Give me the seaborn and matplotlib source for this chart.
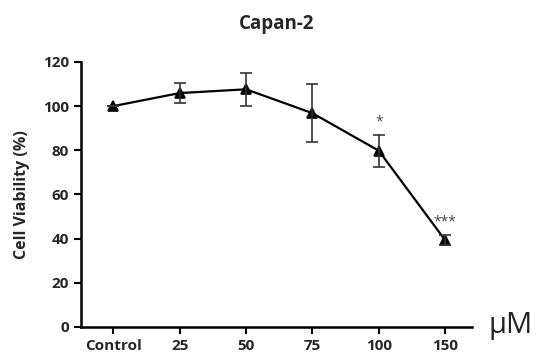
import numpy as np
import pandas as pd
import matplotlib
matplotlib.use("Agg")
import matplotlib.pyplot as plt
import seaborn as sns

# values
doses = ["Control", "25", "50", "75", "100", "150"]
viability = [100, 105.9, 107.6, 96.8, 79.8, 39.3]
sd = [0, 4.6, 7.6, 13.2, 7.3, 2.2]
stars = ["", "", "", "", "*", "***"]

sns.set_theme(style="ticks")
plt.rcParams['font.family'] = ['Open Sans', 'DejaVu Sans']

df = pd.DataFrame({"dose": doses, "viability": viability})

fig = plt.figure(figsize=(5.39, 3.58), dpi=100)
ax = fig.add_axes([0.15, 0.087, 0.725, 0.74])

sns.pointplot(data=df, x="dose", y="viability", order=doses, color="black",
              markers="^", errorbar=None, linewidth=1.6, markersize=7, ax=ax)
ax.errorbar(np.arange(len(doses)), viability, yerr=sd, fmt="none",
            ecolor="#333333", elinewidth=1.2, capsize=4, capthick=1.2)

for i, s in enumerate(stars):
    if s:
        ax.text(i, viability[i] + sd[i] + 2.5, s, ha="center", va="bottom",
                fontsize=10, color="#444444")

ax.set_xlim(-0.49, 5.40)
ax.set_ylim(0, 120)
ax.set_yticks(range(0, 121, 20))
ax.set_xlabel("")
ax.set_ylabel("Cell Viability (%)", fontsize=11.5, fontweight="bold", labelpad=9)
ax.set_title("Capan-2", fontsize=13.5, fontweight="bold", pad=24)
for lab in ax.get_xticklabels() + ax.get_yticklabels():
    lab.set_fontweight("bold")
    lab.set_fontsize(11)
ax.tick_params(direction="out", length=5, width=1.5, color="black")
sns.despine(ax=ax)
for sp in ["left", "bottom"]:
    ax.spines[sp].set_linewidth(1.8)
    ax.spines[sp].set_color("black")

fig.text(0.907, 0.09, "µM", fontsize=21, color="#222222", va="center", ha="left")

fig.savefig("out.png", dpi=100)
